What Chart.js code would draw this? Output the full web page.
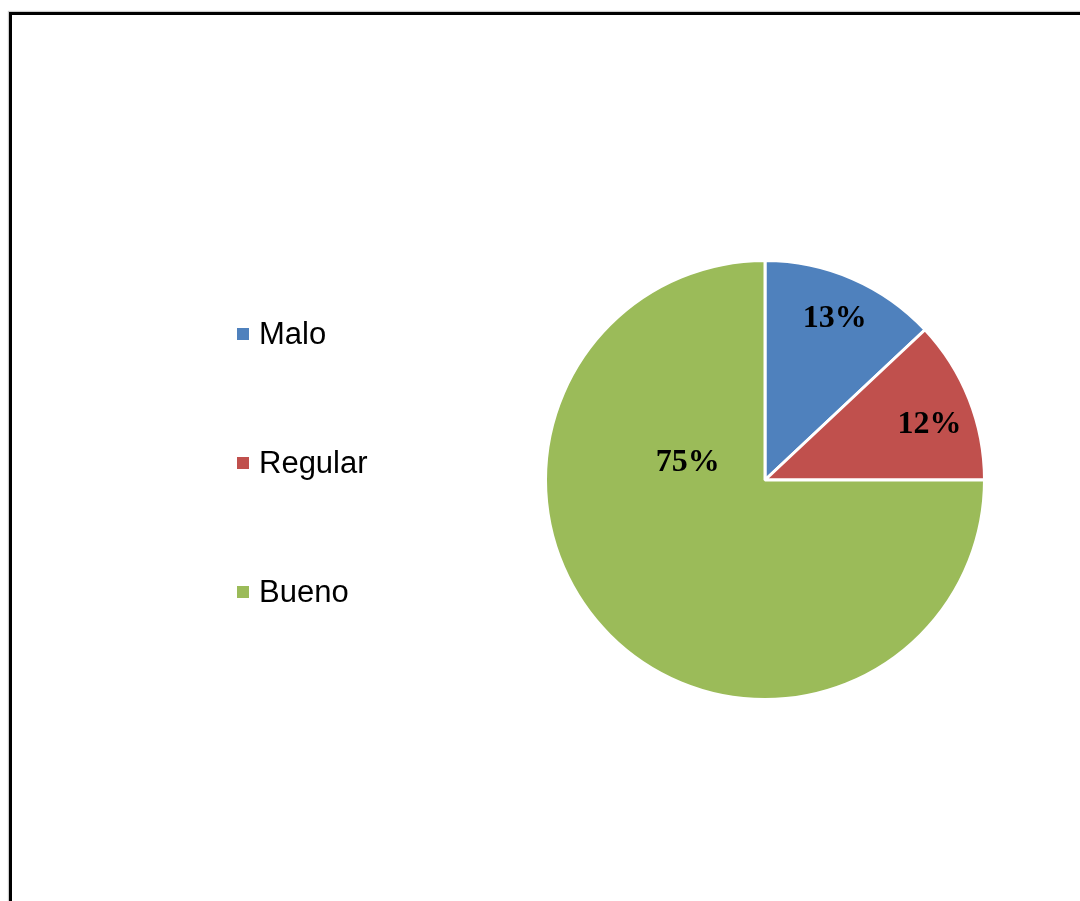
<!DOCTYPE html>
<html>
<head>
<meta charset="utf-8">
<script src="https://cdn.jsdelivr.net/npm/chart.js@4/dist/chart.umd.min.js"></script>
<style>
  html, body { margin: 0; padding: 0; background: #fff; overflow: hidden; }
  #frame {
    position: absolute; left: 9px; top: 12px; width: 1100px; height: 920px;
    border: 3px solid #000; box-shadow: -1px -1px 1px #ccc;
  }
  #wrap { position: absolute; left: 0; top: 0; width: 1080px; height: 901px; }
  #legend {
    position: absolute; left: 237px; top: 314px; margin: 0; padding: 0; list-style: none;
    font-family: "Liberation Sans", Arial, sans-serif; font-size: 31px; color: #000;
  }
  #legend li { height: 129px; line-height: 40px; display: flex; align-items: flex-start; }
  #legend span.box { width: 12px; height: 12px; margin: 14px 10px 0 0; display: inline-block; }
</style>
</head>
<body>
<div id="frame"></div>
<div id="wrap"><canvas id="pieGraph"></canvas></div>
<ul id="legend"></ul>
<script>
// data
const categorias = ["Malo", "Regular", "Bueno"];
const valores = [13, 12, 75];
const colores = ["#4F81BD", "#C0504D", "#9BBB59"];
// label placement: fraction of radius, optional angle (deg clockwise from top)
const etiquetaRadio = [0.8, 0.79, 0.36];
const etiquetaAngulo = [null, 71.5, 282.5];

// html legend
const ul = document.getElementById("legend");
categorias.forEach((c, i) => {
  const li = document.createElement("li");
  li.innerHTML = '<span class="box" style="background:' + colores[i] + '"></span>' + c;
  ul.appendChild(li);
});

const total = valores.reduce((a, b) => a + b, 0);

const etiquetas = {
  id: "etiquetas",
  afterDatasetsDraw(chart) {
    const ctx = chart.ctx;
    const meta = chart.getDatasetMeta(0);
    ctx.save();
    ctx.font = "bold 32px 'Liberation Serif', 'Times New Roman', serif";
    ctx.fillStyle = "#000";
    ctx.textAlign = "center";
    ctx.textBaseline = "middle";
    meta.data.forEach((arc, i) => {
      const p = arc.getProps(["x", "y", "startAngle", "endAngle", "outerRadius"], true);
      let ang = (p.startAngle + p.endAngle) / 2;
      if (etiquetaAngulo[i] !== null) ang = etiquetaAngulo[i] * Math.PI / 180 - Math.PI / 2;
      const r = p.outerRadius * etiquetaRadio[i];
      const txt = Math.round(valores[i] / total * 100) + "%";
      ctx.fillText(txt, p.x + Math.cos(ang) * r, p.y + Math.sin(ang) * r);
    });
    ctx.restore();
  }
};

const data = {
  labels: categorias,
  datasets: [{
    data: valores,
    backgroundColor: colores,
    borderColor: "#fff",
    borderWidth: 3
  }]
};

new Chart(document.getElementById("pieGraph"), {
  type: "pie",
  data,
  options: {
    responsive: true,
    maintainAspectRatio: false,
    animation: false,
    layout: { padding: { left: 544, right: 94, top: 259, bottom: 200 } },
    plugins: {
      legend: { display: false },
      tooltip: { enabled: false }
    }
  },
  plugins: [etiquetas]
});
</script>
</body>
</html>
